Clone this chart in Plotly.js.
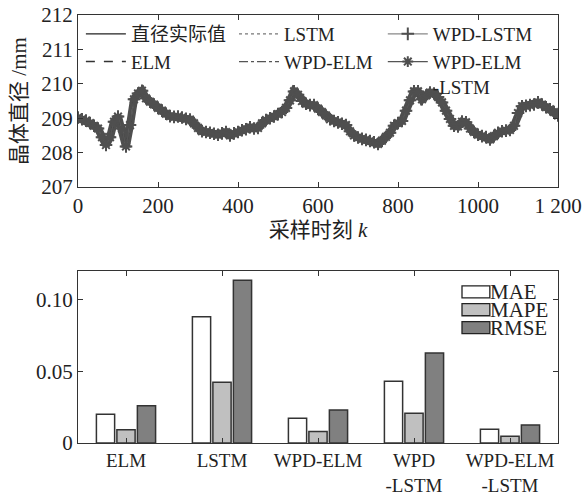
<!DOCTYPE html>
<html><head><meta charset="utf-8">
<script src="https://cdn.plot.ly/plotly-3.0.1.min.js"></script>
<style>html,body{margin:0;padding:0;background:#fff}</style>
</head><body>
<div id="chart" style="width:584px;height:494px"></div>
<script>
// ---- top chart: crystal diameter over sampling time (k step 10) ----
const sampleK = [];
for (let k = 0; k <= 1200; k += 10) sampleK.push(k);
const diameterActual = [
 209.02,208.97,208.93,208.86,208.78,208.70,208.45,208.22,208.45,208.90,
 209.05,208.70,208.18,208.80,209.55,209.72,209.80,209.58,209.48,209.40,
 209.30,209.22,209.13,209.06,209.04,209.05,209.02,208.98,208.96,208.85,
 208.72,208.62,208.60,208.58,208.55,208.52,208.56,208.60,208.50,208.56,
 208.60,208.65,208.68,208.74,208.70,208.72,208.85,208.95,209.00,209.05,
 209.12,209.18,209.30,209.52,209.78,209.68,209.50,209.42,209.38,209.38,
 209.28,209.18,209.08,208.97,208.92,208.88,208.84,208.80,208.62,208.50,
 208.44,208.40,208.37,208.34,208.30,208.25,208.35,208.46,208.58,208.78,
 208.86,208.92,209.22,209.52,209.78,209.78,209.55,209.66,209.75,209.72,
 209.62,209.46,209.22,208.98,208.78,208.76,208.90,208.88,208.70,208.60,
 208.52,208.48,208.45,208.38,208.48,208.58,208.62,208.64,208.66,208.78,
 209.15,209.35,209.36,209.38,209.40,209.46,209.40,209.32,209.26,209.18,
 209.08
];
// predictions overlap the measured curve at this scale
const predELM = diameterActual.slice();
const predLSTM = diameterActual.slice();
const predWPDELM = diameterActual.slice();
const predWPDLSTM = diameterActual.slice();
const predWPDELMLSTM = diameterActual.slice();

// ---- bottom chart: error metrics ----
const models = ['ELM','LSTM','WPD-ELM','WPD<br>-LSTM','WPD-ELM<br>-LSTM'];
const metricNames = ['MAE','MAPE','RMSE'];
const maeVals  = [0.0200, 0.0880, 0.0172, 0.0430, 0.0095];
const mapeVals = [0.0093, 0.0423, 0.0081, 0.0207, 0.0047];
const rmseVals = [0.0260, 0.1135, 0.0230, 0.0628, 0.0126];
const metricColors = ['#ffffff','#c0c0c0','#808080'];

const xTickVals = [0,200,400,600,800,1000,1200];
const xTickText = ['0','200','400','600','800','1000','1 200'];
const yTopTicks = [207,208,209,210,211,212];
const yBotTickVals = [0,0.05,0.10];
const yBotTickText = ['0','0.05','0.10'];

const FONT = '"Liberation Serif", "DejaVu Serif", "Noto Sans CJK SC", serif';
const band = '#4f4f4f';

const traces = [
 // thick band of the overlapping curves (no legend entry)
 {x: sampleK, y: diameterActual, type:'scatter', mode:'lines', showlegend:false, hoverinfo:'skip',
  line:{color:band, width:8}, xaxis:'x', yaxis:'y'},
 {x: sampleK, y: diameterActual, name: '直径实际值', type:'scatter', mode:'lines',
  line:{color:'#222', width:1.2}, xaxis:'x', yaxis:'y', legend:'legend'},
 {x: sampleK, y: predLSTM, name: 'LSTM', type:'scatter', mode:'lines',
  line:{color:'#777', width:1.2, dash:'dot'}, xaxis:'x', yaxis:'y', legend:'legend2'},
 {x: sampleK, y: predWPDLSTM, name: 'WPD-LSTM', type:'scatter', mode:'lines+markers',
  line:{color:'#888', width:1.2}, marker:{symbol:'cross-thin-open', size:9, color:band, line:{color:band, width:2}},
  xaxis:'x', yaxis:'y', legend:'legend3'},
 {x: sampleK, y: predELM, name: 'ELM', type:'scatter', mode:'lines',
  line:{color:'#333', width:1.5, dash:'dash'}, xaxis:'x', yaxis:'y', legend:'legend'},
 {x: sampleK, y: predWPDELM, name: 'WPD-ELM', type:'scatter', mode:'lines',
  line:{color:'#555', width:1.2, dash:'dashdot'}, xaxis:'x', yaxis:'y', legend:'legend2'},
 {x: sampleK, y: predWPDELMLSTM, name: 'WPD-ELM<br>-LSTM', type:'scatter', mode:'lines+markers',
  line:{color:'#555', width:1.2}, marker:{symbol:'asterisk-open', size:9, color:band, line:{color:band, width:2}},
  xaxis:'x', yaxis:'y', legend:'legend3'},
 {x: models, y: maeVals, name:metricNames[0], type:'bar', showlegend:false,
  marker:{color:metricColors[0], line:{color:'#333', width:1.5}}, xaxis:'x2', yaxis:'y2'},
 {x: models, y: mapeVals, name:metricNames[1], type:'bar', showlegend:false,
  marker:{color:metricColors[1], line:{color:'#333', width:1.5}}, xaxis:'x2', yaxis:'y2'},
 {x: models, y: rmseVals, name:metricNames[2], type:'bar', showlegend:false,
  marker:{color:metricColors[2], line:{color:'#333', width:1.5}}, xaxis:'x2', yaxis:'y2'}
];

// legend for the bar chart: swatches + labels in the plot corner
const shapes = [], annotations = [];
metricNames.forEach((nm, i) => {
  const top = 0.913 - i * 0.1035;
  shapes.push({type:'rect', xref:'x2 domain', yref:'y2 domain', x0:0.80, x1:0.858,
    y0:top - 0.07, y1:top, fillcolor:metricColors[i], line:{color:'#222', width:1.3}});
  annotations.push({xref:'x2 domain', yref:'y2 domain', x:0.856, y:top - 0.035,
    xanchor:'left', yanchor:'middle', showarrow:false, text:nm, borderpad:0,
    font:{family:FONT, size:21, color:'#222'}});
});

const axisCommon = {showline:true, linecolor:'#333', linewidth:1, mirror:'ticks', ticks:'inside',
  ticklen:5, tickcolor:'#333', showgrid:false, zeroline:false, tickfont:{family:FONT, size:21, color:'#222'}};

const legendCommon = {orientation:'v', y:1.0, xanchor:'left', yanchor:'top', bgcolor:'rgba(0,0,0,0)',
  borderwidth:0, itemwidth:40, traceorder:'normal', valign:'top',
  font:{family:FONT, size:19, color:'#222'}, tracegroupgap:0};

const layout = {
 width:584, height:494,
 margin:{l:78, r:26, t:15, b:51},
 paper_bgcolor:'#fff', plot_bgcolor:'#fff',
 font:{family:FONT, size:21, color:'#222'},
 showlegend:true,
 bargap:0.36, bargroupgap:0.11, barmode:'group',
 shapes: shapes, annotations: annotations,
 xaxis: Object.assign({}, axisCommon, {domain:[0,1], anchor:'y', range:[0,1200],
   tickmode:'array', tickvals:xTickVals, ticktext:xTickText,
   title:{text:'采样时刻 <i>k</i>', font:{family:FONT, size:21, color:'#222'}, standoff:4}}),
 yaxis: Object.assign({}, axisCommon, {domain:[0.598,1], anchor:'x', range:[207,212],
   tickmode:'array', tickvals:yTopTicks,
   title:{text:'晶体直径 /mm', font:{family:FONT, size:21, color:'#222'}, standoff:8}}),
 xaxis2: Object.assign({}, axisCommon, {domain:[0,1], anchor:'y2', type:'category', range:[-0.5,4.5],
   tickfont:{family:FONT, size:19, color:'#222'}}),
 yaxis2: Object.assign({}, axisCommon, {domain:[0,0.402], anchor:'x2', range:[0,0.12],
   tickmode:'array', tickvals:yBotTickVals, ticktext:yBotTickText}),
 legend: Object.assign({}, legendCommon, {x:0.006}),
 legend2: Object.assign({}, legendCommon, {x:0.325}),
 legend3: Object.assign({}, legendCommon, {x:0.635})
};

Plotly.newPlot('chart', traces, layout, {displayModeBar:false, staticPlot:true});
</script>
</body></html>
